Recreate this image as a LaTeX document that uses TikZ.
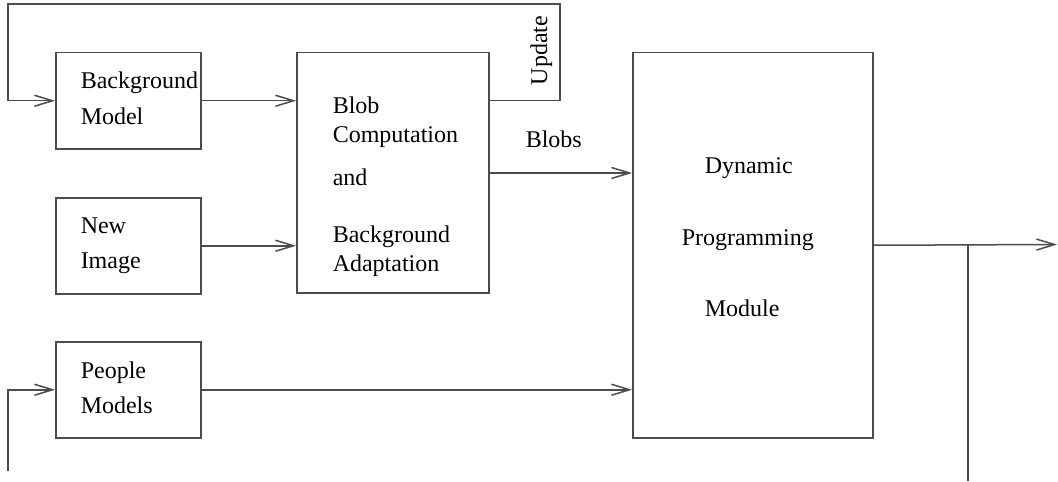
\documentclass[tikz,border=0pt]{standalone}
\usepackage{fontspec}
\setmainfont{Liberation Serif}
\usetikzlibrary{arrows.meta,calc}
\begin{document}
\begin{tikzpicture}[x=0.5pt,y=-0.5pt,
  line width=0.75pt,
  color=black!70,
  blk/.style={draw, rectangle, inner sep=0pt, anchor=north west},
  lbl/.style={inner sep=0pt, anchor=base west, font=\fontsize{12}{14}\selectfont, text=black},
  arr/.style={-{Straight Barb[length=9pt,width=5.5pt]}}]
% canvas
\fill[white] (0,0) rectangle (1058,481);
\useasboundingbox (0,0) rectangle (1058,481);

% blocks
\node[blk, minimum width=72.5pt, minimum height=48pt] (bg) at (55,52) {};
\node[blk, minimum width=72.5pt, minimum height=48pt] (ni) at (55,197) {};
\node[blk, minimum width=72.5pt, minimum height=48pt] (pm) at (55,341) {};
\node[blk, minimum width=96pt, minimum height=120pt] (blob) at (296,52) {};
\node[blk, minimum width=120pt, minimum height=192.5pt] (dp) at (632,52) {};

% block texts
\node[lbl] (bgA) at (80,89) {Background};
\node[lbl] (bgB) at (80,125) {Model};
\node[lbl] (niA) at (80,233) {New};
\node[lbl] (niB) at (80,268) {Image};
\node[lbl] (pmA) at (80,378) {People};
\node[lbl] (pmB) at (80,413) {Models};
\node[lbl] (blA) at (332,113) {Blob};
\node[lbl] (blB) at (332,142) {Computation};
\node[lbl] (blC) at (332,185) {and};
\node[lbl] (blD) at (332,242) {Background};
\node[lbl] (blE) at (332,271) {Adaptation};
\node[lbl] (dpA) at (704,173) {Dynamic};
\node[lbl] (dpB) at (681,245) {Programming};
\node[lbl] (dpC) at (704,316) {Module};

% edge labels
\node[lbl] (blobs) at (525,147) {Blobs};
\node[lbl, rotate=90] (upd) at (547,86) {Update};

% helper points
\coordinate (upR) at (560,4);
\coordinate (upL) at (8,4);
\coordinate (blobOut) at (488,173);
\coordinate (fbBot) at (8,471);
\coordinate (outEnd) at (1057,244.5);
\coordinate (tap) at (968,244.5);
\coordinate (tapBot) at (968,481);

% connectors
\draw[arr] (blob.east |- bg.east) -- (upR |- bg.east) -- (upR) -- (upL)
  -- (upL |- bg.west) -- (bg.west);
\draw[arr] (bg.east) -- (blob.west |- bg.east);
\draw[arr] (ni.east) -- (blob.west |- ni.east);
\draw[arr] (blobOut) -- (dp.west |- blobOut);
\draw[arr] (pm.east) -- (dp.west |- pm.east);
\draw[arr] (fbBot) -- (fbBot |- pm.west) -- (pm.west);
\draw[arr] (dp.east) -- (outEnd);
\draw (tap) -- (tapBot);
\end{tikzpicture}
\end{document}
